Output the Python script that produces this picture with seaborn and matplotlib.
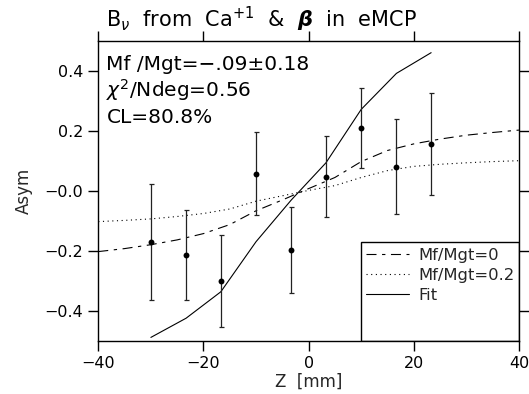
import numpy as np
import pandas as pd
import matplotlib
matplotlib.use("Agg")
import matplotlib.pyplot as plt
import seaborn as sns
from matplotlib.patches import Rectangle
from matplotlib.lines import Line2D

# ---- data ----
z_pts = [-30, -23.3, -16.7, -10, -3.3, 3.3, 10, 16.7, 23.3]
asym = [-0.170, -0.213, -0.300, 0.058, -0.197, 0.048, 0.210, 0.081, 0.157]
asym_err = [0.194, 0.151, 0.153, 0.138, 0.143, 0.136, 0.133, 0.159, 0.171]
fit_vals = [-0.488, -0.424, -0.336, -0.169, -0.030, 0.094, 0.272, 0.392, 0.461]

z_curve = [-40, -35, -30, -25, -20, -15, -10, -5, 0, 5, 10, 15, 20, 25, 30, 35, 40]
mf0_vals = [-0.202, -0.192, -0.179, -0.163, -0.142, -0.112, -0.066, -0.030, 0.008,
            0.045, 0.098, 0.135, 0.157, 0.173, 0.186, 0.195, 0.203]
mf02_vals = [-0.102, -0.098, -0.093, -0.085, -0.075, -0.060, -0.034, -0.016, 0.002,
             0.018, 0.045, 0.068, 0.082, 0.089, 0.094, 0.098, 0.101]

x_ticks = [-40, -20, 0, 20, 40]
x_ticklabels = ["\u221240", "\u221220", "0", "20", "40"]
y_ticks = [0.4, 0.2, 0.0, -0.2, -0.4]
y_ticklabels = ["0.4", "0.2", "\u22120.0", "\u22120.2", "\u22120.4"]

legend_labels = ["Mf/Mgt=0", "Mf/Mgt=0.2", "Fit"]
stats_lines = ["Mf /Mgt=\u2212.09\u00b10.18", r"$\chi^2$/Ndeg=0.56", "CL=80.8%"]

sns.set_theme(style="ticks")
plt.rcParams["font.family"] = ["DejaVu Sans"]
plt.rcParams["axes.linewidth"] = 1.0
plt.rcParams["mathtext.fontset"] = "dejavusans"

fig = plt.figure(figsize=(5.29, 3.94), dpi=100)
ax = fig.add_axes([0.1858, 0.1345, 0.7952, 0.7615])

df_pts = pd.DataFrame({"z": z_pts, "asym": asym, "fit": fit_vals})
df_curve = pd.DataFrame({"z": z_curve, "mf0": mf0_vals, "mf02": mf02_vals})

dashdot = (0, (9, 5, 3, 5))
dotted = (0, (1, 3.2))
lw = 0.8

sns.lineplot(data=df_curve, x="z", y="mf0", ax=ax, color="black", lw=lw,
             linestyle=dashdot, estimator=None, sort=True)
sns.lineplot(data=df_curve, x="z", y="mf02", ax=ax, color="black", lw=lw,
             linestyle=dotted, estimator=None, sort=True)
sns.lineplot(data=df_pts, x="z", y="fit", ax=ax, color="black", lw=lw,
             estimator=None, sort=True)
ax.errorbar(z_pts, asym, yerr=asym_err, fmt="none", ecolor="#222222",
            elinewidth=0.9, capsize=1.8, capthick=0.9)
sns.scatterplot(data=df_pts, x="z", y="asym", ax=ax, color="black", s=18,
                edgecolor="black", linewidth=0, zorder=5)

ax.set_xlim(-40, 40)
ax.set_ylim(-0.5, 0.5)
ax.set_xticks(x_ticks)
ax.set_xticklabels(x_ticklabels)
ax.set_yticks(y_ticks)
ax.set_yticklabels(y_ticklabels)
ax.tick_params(axis="both", which="major", direction="out", length=7, width=1,
               labelsize=11.5, colors="black", pad=4,
               top=True, right=True, labeltop=False, labelright=False)
for s in ax.spines.values():
    s.set_visible(True)
    s.set_color("black")
ax.set_xlabel("Z  [mm]", fontsize=12, labelpad=1)
ax.set_ylabel("Asym", fontsize=12, labelpad=8)

# title
fig.text(106 / 529, 1 - 27 / 394,
         r"B$_{\nu}$  from  Ca$^{+1}$  &  $\boldsymbol{\beta}$  in  eMCP",
         fontsize=15, ha="left", va="baseline", color="black")

# stats text
for i, t in enumerate(stats_lines):
    fig.text(106.5 / 529, 1 - (70 + 26.7 * i) / 394, t, fontsize=14.5,
             ha="left", va="baseline", color="black")

# legend box
x0 = (360.7 - 98.3) / 420.7
h = (341 - 242.3) / 300
ax.add_patch(Rectangle((x0, 0), 1 - x0, h, transform=ax.transAxes,
                       fill=False, edgecolor="black", lw=1.0, zorder=6))
handles = [Line2D([], [], color="black", lw=lw, linestyle=dashdot),
           Line2D([], [], color="black", lw=lw, linestyle=dotted),
           Line2D([], [], color="black", lw=lw)]
leg = ax.legend(handles, legend_labels, loc="upper left",
                bbox_to_anchor=(x0, h), frameon=False, fontsize=11.8,
                handlelength=2.6, handletextpad=0.6, labelspacing=0.3,
                borderaxespad=0, borderpad=0.35)

fig.savefig("out.png", dpi=100)
